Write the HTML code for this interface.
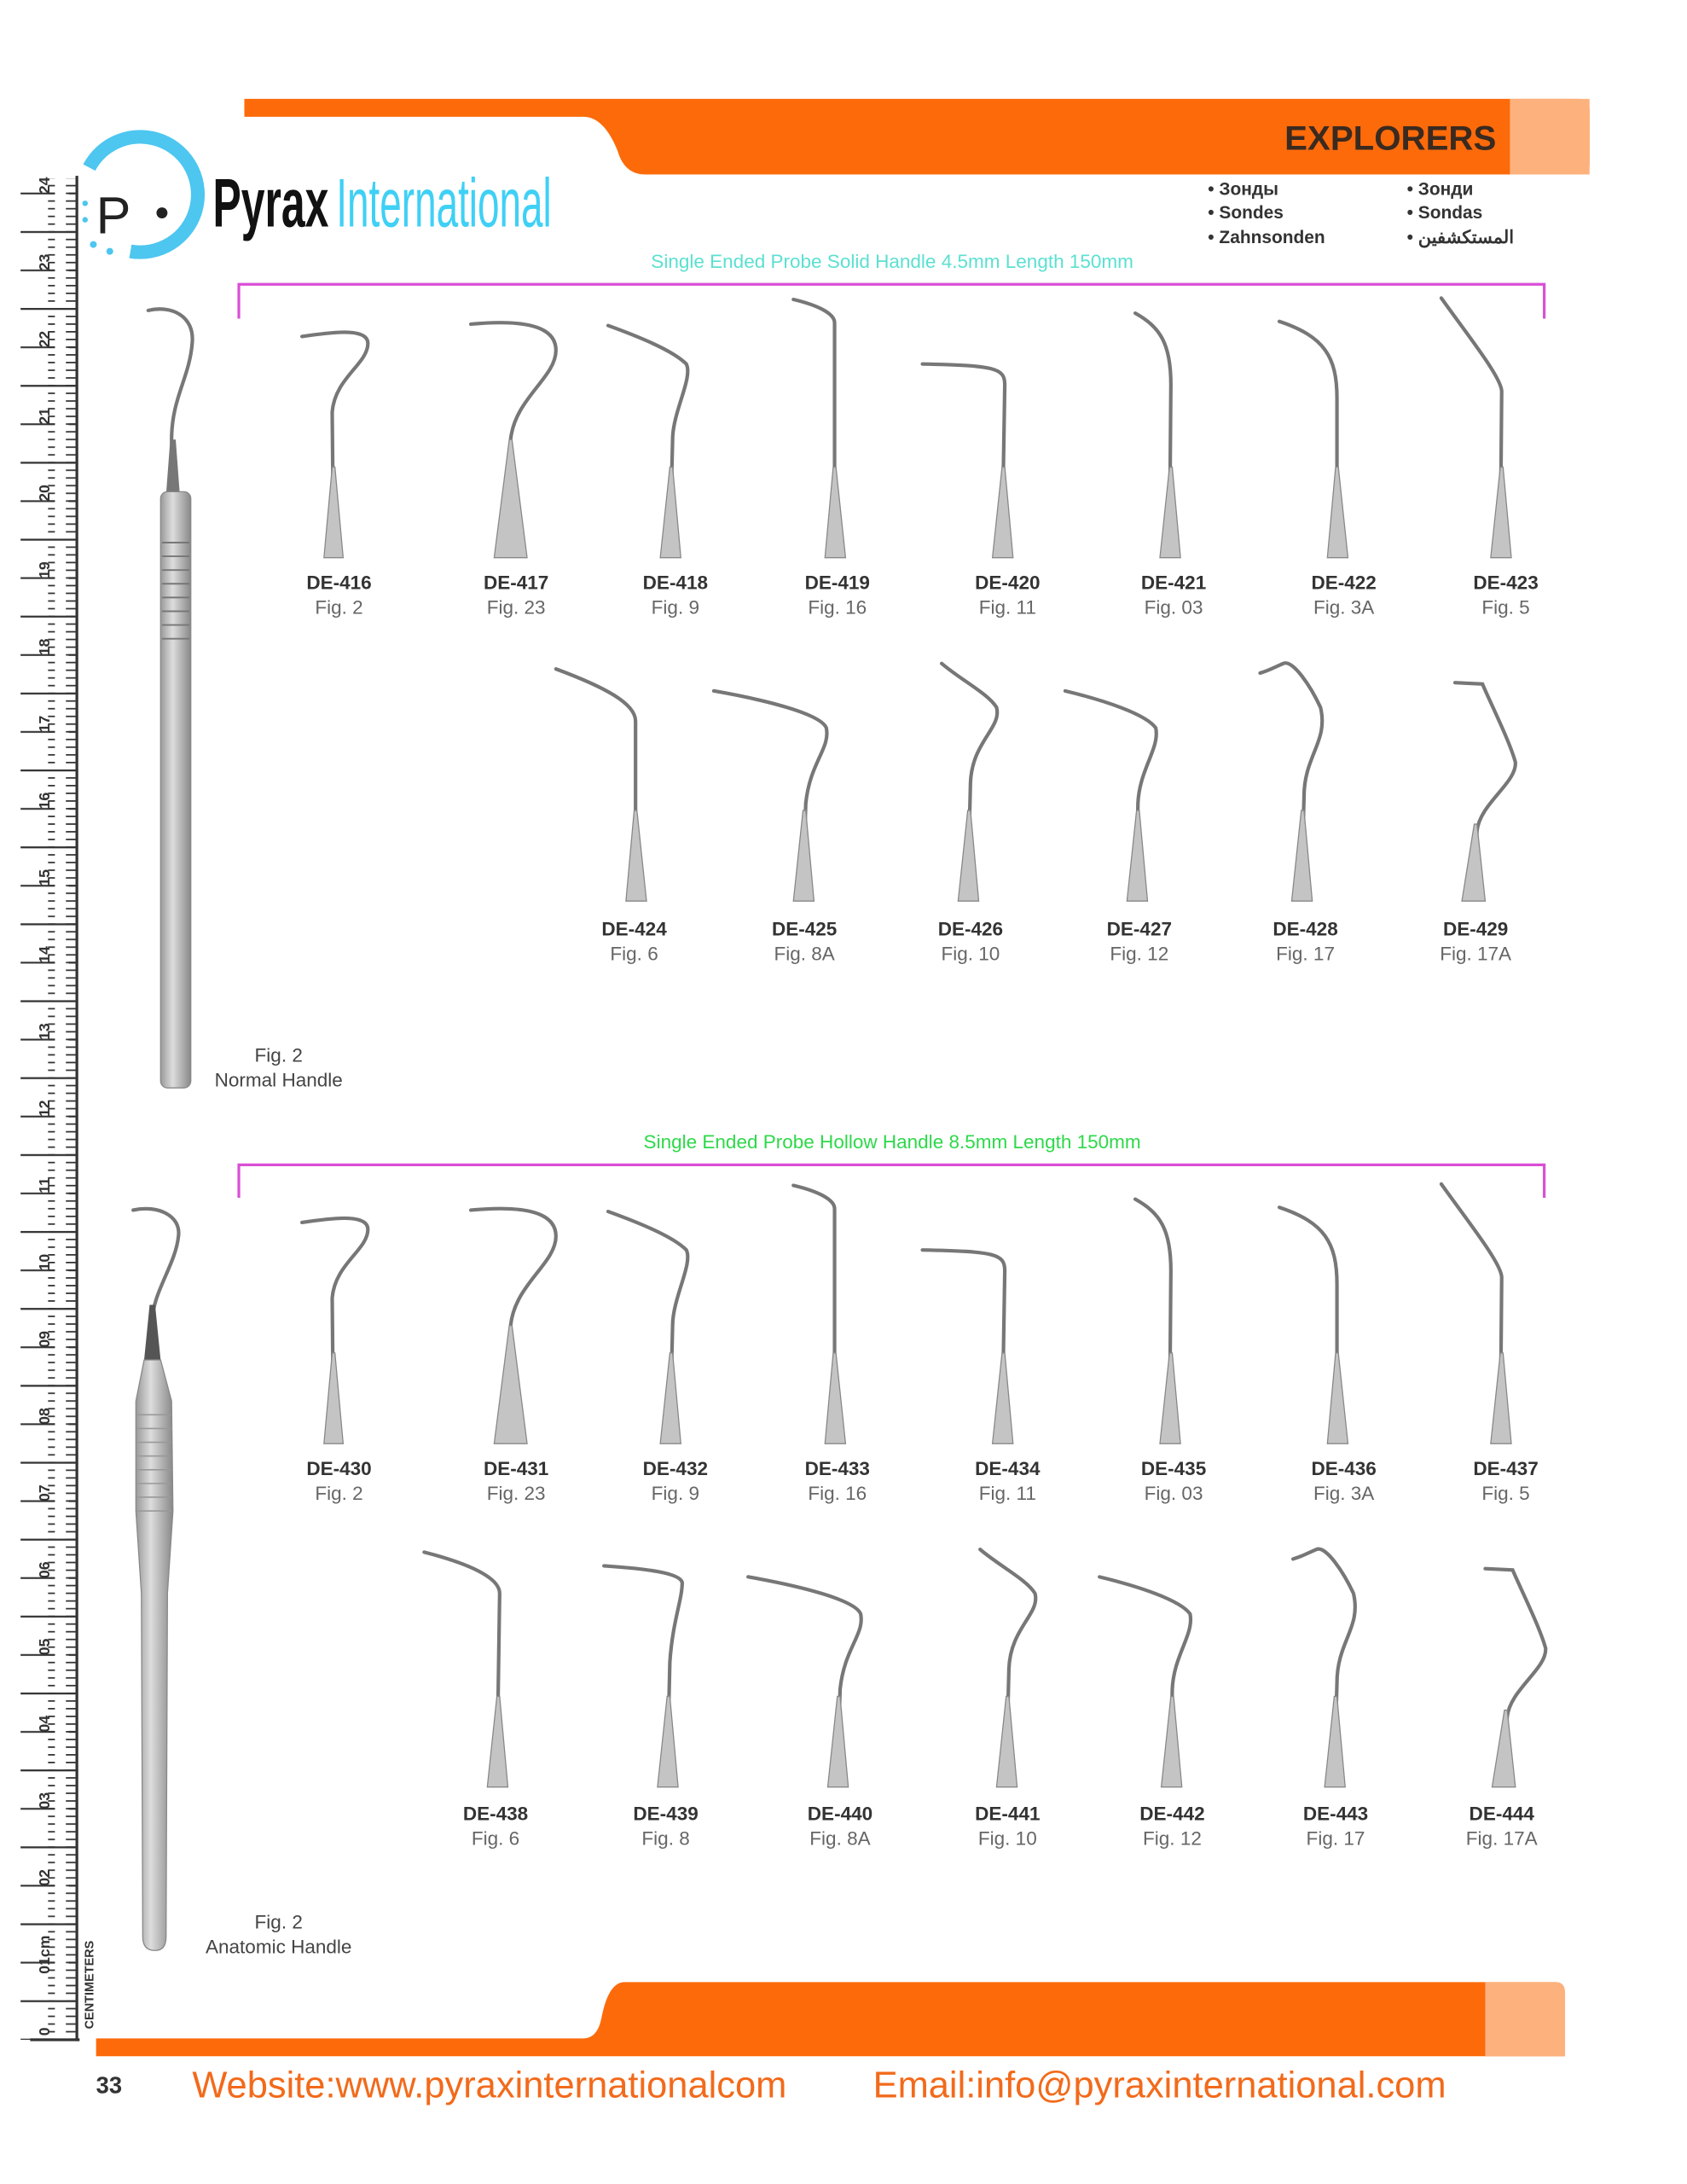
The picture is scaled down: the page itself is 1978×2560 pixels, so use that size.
<!DOCTYPE html>
<html><head><meta charset="utf-8"><style>
html,body{margin:0;padding:0;background:#fff;}
svg{display:block;}
text{font-family:"Liberation Sans",Arial,sans-serif;}
.de{font-weight:bold;font-size:14px;fill:#333;text-anchor:middle;}
.fg{font-size:14px;fill:#666;text-anchor:middle;}
.w{fill:none;stroke:#777;stroke-width:2.6;stroke-linecap:round;}
.tp{fill:#c4c4c4;stroke:#888;stroke-width:0.8;}
</style></head><body>
<svg width="1978" height="2560" viewBox="0 0 1229 1590" preserveAspectRatio="none" xmlns="http://www.w3.org/2000/svg">
<defs>
<pattern id="mm" x="0" y="0.2" width="20" height="5.6" patternUnits="userSpaceOnUse"><rect x="8" y="0" width="12" height="1.1" fill="#333"/></pattern>
<pattern id="cmp" x="0" y="0.2" width="40" height="56" patternUnits="userSpaceOnUse"><rect x="0" y="0" width="40" height="1.4" fill="#333"/><rect x="10" y="28" width="30" height="1.3" fill="#333"/></pattern>
<linearGradient id="hg" x1="0" x2="1"><stop offset="0" stop-color="#999"/><stop offset="0.4" stop-color="#ddd"/><stop offset="1" stop-color="#888"/></linearGradient>
</defs>
<rect width="1229" height="1590" fill="#fff"/>

<!-- top band -->
<path d="M178,72 L1150,72 Q1158,72 1158,80 L1158,120 Q1158,127 1150,127 L470,127 Q455,127 450,110 Q440,85 425,85 L178,85 Z" fill="#fd6a0a"/>
<rect x="1100" y="72" width="58" height="55" fill="#fdb27e"/>
<path d="M1150,72 Q1158,72 1158,80 L1158,120 Q1158,127 1150,127 Z" fill="#fdb27e"/>
<text x="1090" y="109" font-size="25" font-weight="bold" fill="#3a2a20" text-anchor="end">EXPLORERS</text>

<!-- logo -->
<path d="M65,122 A42,42 0 1 1 95,183" fill="none" stroke="#4dc6f0" stroke-width="10"/>
<circle cx="68" cy="178" r="2.5" fill="#4dc6f0"/><circle cx="80" cy="183" r="2.5" fill="#4dc6f0"/><circle cx="62" cy="160" r="2" fill="#4dc6f0"/><circle cx="62" cy="148" r="2" fill="#4dc6f0"/>
<text x="70" y="170" font-size="38" fill="#222">P</text>
<circle cx="118" cy="155" r="4" fill="#222"/>
<text x="155" y="165" font-size="50" font-weight="bold" fill="#111" transform="translate(155,0) scale(0.62,1) translate(-155,0)">Pyrax</text>
<text x="245" y="165" font-size="50" fill="#3fd0f5" transform="translate(245,0) scale(0.57,1) translate(-245,0)">International</text>

<g font-size="13" font-weight="bold" fill="#333">
<text x="880" y="142">• Зонды</text><text x="880" y="159">• Sondes</text><text x="880" y="177">• Zahnsonden</text>
<text x="1025" y="142">• Зонди</text><text x="1025" y="159">• Sondas</text><text x="1025" y="177">• المستكشفين</text>
</g>
<text x="650" y="195" font-size="14" fill="#5be0d0" text-anchor="middle">Single Ended Probe Solid Handle 4.5mm Length 150mm</text>
<path d="M174,232 L174,207 L1125,207 L1125,232" fill="none" stroke="#d94fd6" stroke-width="2"/>

<!-- ruler -->
<rect x="55" y="128" width="2" height="1358" fill="#333"/>
<rect x="35" y="130" width="20" height="1355" fill="url(#mm)"/>
<rect x="15" y="130" width="40" height="1355" fill="url(#cmp)"/>
<rect x="22" y="1484" width="36" height="2" fill="#333"/>
<g font-size="11" font-weight="bold" fill="#333" text-anchor="middle">
<text transform="translate(36,135) rotate(-90)">24</text><text transform="translate(36,191) rotate(-90)">23</text><text transform="translate(36,247) rotate(-90)">22</text><text transform="translate(36,303) rotate(-90)">21</text><text transform="translate(36,359) rotate(-90)">20</text><text transform="translate(36,415) rotate(-90)">19</text><text transform="translate(36,471) rotate(-90)">18</text><text transform="translate(36,527) rotate(-90)">17</text><text transform="translate(36,583) rotate(-90)">16</text><text transform="translate(36,639) rotate(-90)">15</text><text transform="translate(36,695) rotate(-90)">14</text><text transform="translate(36,751) rotate(-90)">13</text><text transform="translate(36,807) rotate(-90)">12</text><text transform="translate(36,863) rotate(-90)">11</text><text transform="translate(36,919) rotate(-90)">10</text><text transform="translate(36,975) rotate(-90)">09</text><text transform="translate(36,1031) rotate(-90)">08</text><text transform="translate(36,1087) rotate(-90)">07</text><text transform="translate(36,1143) rotate(-90)">06</text><text transform="translate(36,1199) rotate(-90)">05</text><text transform="translate(36,1255) rotate(-90)">04</text><text transform="translate(36,1311) rotate(-90)">03</text><text transform="translate(36,1367) rotate(-90)">02</text><text transform="translate(36,1423) rotate(-90)">01cm</text><text transform="translate(36,1479) rotate(-90)">0</text>
<text transform="translate(68,1445) rotate(-90)" font-size="9">CENTIMETERS</text>
</g>

<!-- normal handle -->
<path d="M108,226 C125,222 142,230 140,250 C138,275 125,290 125,320 L126,360" class="w" stroke-width="2"/>
<path d="M124,320 L128,320 L131,360 L121,360 Z" fill="#777"/>
<rect x="117" y="358" width="22" height="434" rx="5" fill="url(#hg)" stroke="#888" stroke-width="0.8"/>
<g stroke="#777" stroke-width="1.2">
<line x1="118" y1="395" x2="138" y2="395"/><line x1="118" y1="405" x2="138" y2="405"/><line x1="118" y1="415" x2="138" y2="415"/><line x1="118" y1="425" x2="138" y2="425"/><line x1="118" y1="435" x2="138" y2="435"/><line x1="118" y1="445" x2="138" y2="445"/><line x1="118" y1="455" x2="138" y2="455"/><line x1="118" y1="465" x2="138" y2="465"/>
</g>
<text x="203" y="773" font-size="14" fill="#444" text-anchor="middle">Fig. 2</text>
<text x="203" y="791" font-size="14" fill="#444" text-anchor="middle">Normal Handle</text>

<!-- row 1 -->
<g id="r1">
<path class="w" d="M243,400 L242,300 C244,275 268,265 268,250 C268,238 240,242 220,245"/><path class="tp" d="M236,406 L250,406 L244,340 L242,340 Z"/>
<path class="w" d="M370,400 L372,320 C375,290 405,275 405,255 C405,235 375,233 343,236"/><path class="tp" d="M360,406 L384,406 L373,320 L371,320 Z"/>
<path class="w" d="M488,400 L490,320 C490,300 505,275 500,265 C490,255 465,245 443,237"/><path class="tp" d="M481,406 L496,406 L490,340 L488,340 Z"/>
<path class="w" d="M608,400 L608,235 C608,228 595,222 578,218"/><path class="tp" d="M601,406 L616,406 L609,340 L607,340 Z"/>
<path class="w" d="M730,400 L732,280 C732,268 725,266 672,265"/><path class="tp" d="M723,406 L738,406 L732,340 L730,340 Z"/>
<path class="w" d="M852,400 L853,280 C853,250 845,238 827,228"/><path class="tp" d="M845,406 L860,406 L854,340 L852,340 Z"/>
<path class="w" d="M974,400 L974,290 C974,260 965,245 932,234"/><path class="tp" d="M967,406 L982,406 L975,340 L973,340 Z"/>
<path class="w" d="M1093,400 L1094,285 C1094,275 1070,245 1050,217"/><path class="tp" d="M1086,406 L1101,406 L1095,340 L1093,340 Z"/>
</g>
<g>
<text class="de" x="247" y="429">DE-416</text><text class="fg" x="247" y="447">Fig. 2</text>
<text class="de" x="376" y="429">DE-417</text><text class="fg" x="376" y="447">Fig. 23</text>
<text class="de" x="492" y="429">DE-418</text><text class="fg" x="492" y="447">Fig. 9</text>
<text class="de" x="610" y="429">DE-419</text><text class="fg" x="610" y="447">Fig. 16</text>
<text class="de" x="734" y="429">DE-420</text><text class="fg" x="734" y="447">Fig. 11</text>
<text class="de" x="855" y="429">DE-421</text><text class="fg" x="855" y="447">Fig. 03</text>
<text class="de" x="979" y="429">DE-422</text><text class="fg" x="979" y="447">Fig. 3A</text>
<text class="de" x="1097" y="429">DE-423</text><text class="fg" x="1097" y="447">Fig. 5</text>
</g>

<!-- row 2 -->
<path class="w" d="M463,650 L463,525 C463,512 440,500 405,487"/><path class="tp" d="M456,656 L471,656 L464,590 L462,590 Z"/>
<g id="p425"><path class="w" d="M585,650 L587,585 C590,555 605,545 602,530 C598,520 560,510 520,503"/><path class="tp" d="M578,656 L593,656 L587,590 L585,590 Z"/></g>
<g id="p426"><path class="w" d="M705,650 L707,570 C708,540 730,530 726,515 C720,505 700,495 686,483"/><path class="tp" d="M698,656 L713,656 L707,590 L705,590 Z"/></g>
<g id="p427"><path class="w" d="M828,650 L829,585 C830,560 845,545 842,530 C835,520 805,510 776,503"/><path class="tp" d="M821,656 L836,656 L830,590 L828,590 Z"/></g>
<g id="p428"><path class="w" d="M948,650 L950,580 C950,550 968,540 962,515 C955,500 942,480 935,483 C930,485 925,488 918,490"/><path class="tp" d="M941,656 L956,656 L950,590 L948,590 Z"/></g>
<g id="p429"><path class="w" d="M1074,650 L1076,605 C1078,585 1105,570 1104,555 C1100,540 1085,510 1080,498 L1060,497"/><path class="tp" d="M1065,656 L1082,656 L1076,600 L1074,600 Z"/></g>
<g>
<text class="de" x="462" y="681">DE-424</text><text class="fg" x="462" y="699">Fig. 6</text>
<text class="de" x="586" y="681">DE-425</text><text class="fg" x="586" y="699">Fig. 8A</text>
<text class="de" x="707" y="681">DE-426</text><text class="fg" x="707" y="699">Fig. 10</text>
<text class="de" x="830" y="681">DE-427</text><text class="fg" x="830" y="699">Fig. 12</text>
<text class="de" x="951" y="681">DE-428</text><text class="fg" x="951" y="699">Fig. 17</text>
<text class="de" x="1075" y="681">DE-429</text><text class="fg" x="1075" y="699">Fig. 17A</text>
</g>

<!-- section 2 -->
<text x="650" y="836" font-size="14" fill="#2ed84a" text-anchor="middle">Single Ended Probe Hollow Handle 8.5mm Length 150mm</text>
<path d="M174,872 L174,848 L1125,848 L1125,872" fill="none" stroke="#d94fd6" stroke-width="2"/>

<!-- anatomic handle -->
<path d="M97,881 C115,877 132,885 130,900 C128,920 112,940 111,960 L111,990" class="w" stroke-width="2"/>
<path d="M109,950 L113,950 L117,990 L105,990 Z" fill="#555"/>
<path d="M105,990 L117,990 L125,1020 L126,1100 L122,1160 L121,1410 Q121,1420 113,1420 Q104,1420 104,1410 L103,1160 L99,1100 L99,1020 Z" fill="url(#hg)" stroke="#888" stroke-width="0.8"/>
<g stroke="#999" stroke-width="1">
<line x1="100" y1="1030" x2="125" y2="1030"/><line x1="100" y1="1040" x2="125" y2="1040"/><line x1="100" y1="1050" x2="125" y2="1050"/><line x1="100" y1="1060" x2="125" y2="1060"/><line x1="100" y1="1070" x2="125" y2="1070"/><line x1="100" y1="1080" x2="125" y2="1080"/><line x1="100" y1="1090" x2="125" y2="1090"/><line x1="100" y1="1100" x2="125" y2="1100"/>
</g>
<text x="203" y="1404" font-size="14" fill="#444" text-anchor="middle">Fig. 2</text>
<text x="203" y="1422" font-size="14" fill="#444" text-anchor="middle">Anatomic Handle</text>

<!-- row 3 -->
<use href="#r1" transform="translate(0,645)"/>
<g>
<text class="de" x="247" y="1074">DE-430</text><text class="fg" x="247" y="1092">Fig. 2</text>
<text class="de" x="376" y="1074">DE-431</text><text class="fg" x="376" y="1092">Fig. 23</text>
<text class="de" x="492" y="1074">DE-432</text><text class="fg" x="492" y="1092">Fig. 9</text>
<text class="de" x="610" y="1074">DE-433</text><text class="fg" x="610" y="1092">Fig. 16</text>
<text class="de" x="734" y="1074">DE-434</text><text class="fg" x="734" y="1092">Fig. 11</text>
<text class="de" x="855" y="1074">DE-435</text><text class="fg" x="855" y="1092">Fig. 03</text>
<text class="de" x="979" y="1074">DE-436</text><text class="fg" x="979" y="1092">Fig. 3A</text>
<text class="de" x="1097" y="1074">DE-437</text><text class="fg" x="1097" y="1092">Fig. 5</text>
</g>

<!-- row 4 -->
<path class="w" d="M362,1295 L364,1160 C364,1148 340,1138 309,1130"/><path class="tp" d="M355,1301 L370,1301 L364,1235 L362,1235 Z"/>
<path class="w" d="M486,1295 L488,1210 C490,1180 497,1165 497,1152 C495,1145 470,1142 440,1140"/><path class="tp" d="M479,1301 L494,1301 L488,1235 L486,1235 Z"/>
<use href="#p425" transform="translate(25,645)"/>
<use href="#p426" transform="translate(28,645)"/>
<use href="#p427" transform="translate(25,645)"/>
<use href="#p428" transform="translate(24,645)"/>
<use href="#p429" transform="translate(22,645)"/>
<g>
<text class="de" x="361" y="1325">DE-438</text><text class="fg" x="361" y="1343">Fig. 6</text>
<text class="de" x="485" y="1325">DE-439</text><text class="fg" x="485" y="1343">Fig. 8</text>
<text class="de" x="612" y="1325">DE-440</text><text class="fg" x="612" y="1343">Fig. 8A</text>
<text class="de" x="734" y="1325">DE-441</text><text class="fg" x="734" y="1343">Fig. 10</text>
<text class="de" x="854" y="1325">DE-442</text><text class="fg" x="854" y="1343">Fig. 12</text>
<text class="de" x="973" y="1325">DE-443</text><text class="fg" x="973" y="1343">Fig. 17</text>
<text class="de" x="1094" y="1325">DE-444</text><text class="fg" x="1094" y="1343">Fig. 17A</text>
</g>

<!-- bottom band -->
<path d="M70,1484 L425,1484 Q435,1484 438,1470 Q443,1443 455,1443 L1133,1443 Q1140,1443 1140,1450 L1140,1497 L70,1497 Z" fill="#fd6a0a"/>
<path d="M1082,1443 L1133,1443 Q1140,1443 1140,1450 L1140,1497 L1082,1497 Z" fill="#fdb27e"/>

<!-- footer -->
<text x="70" y="1524" font-size="17" font-weight="bold" fill="#333">33</text>
<text x="140" y="1527" font-size="27" fill="#f26a1b">Website:www.pyraxinternationalcom</text>
<text x="636" y="1527" font-size="27" fill="#f26a1b">Email:info@pyraxinternational.com</text>
</svg>
</body></html>
